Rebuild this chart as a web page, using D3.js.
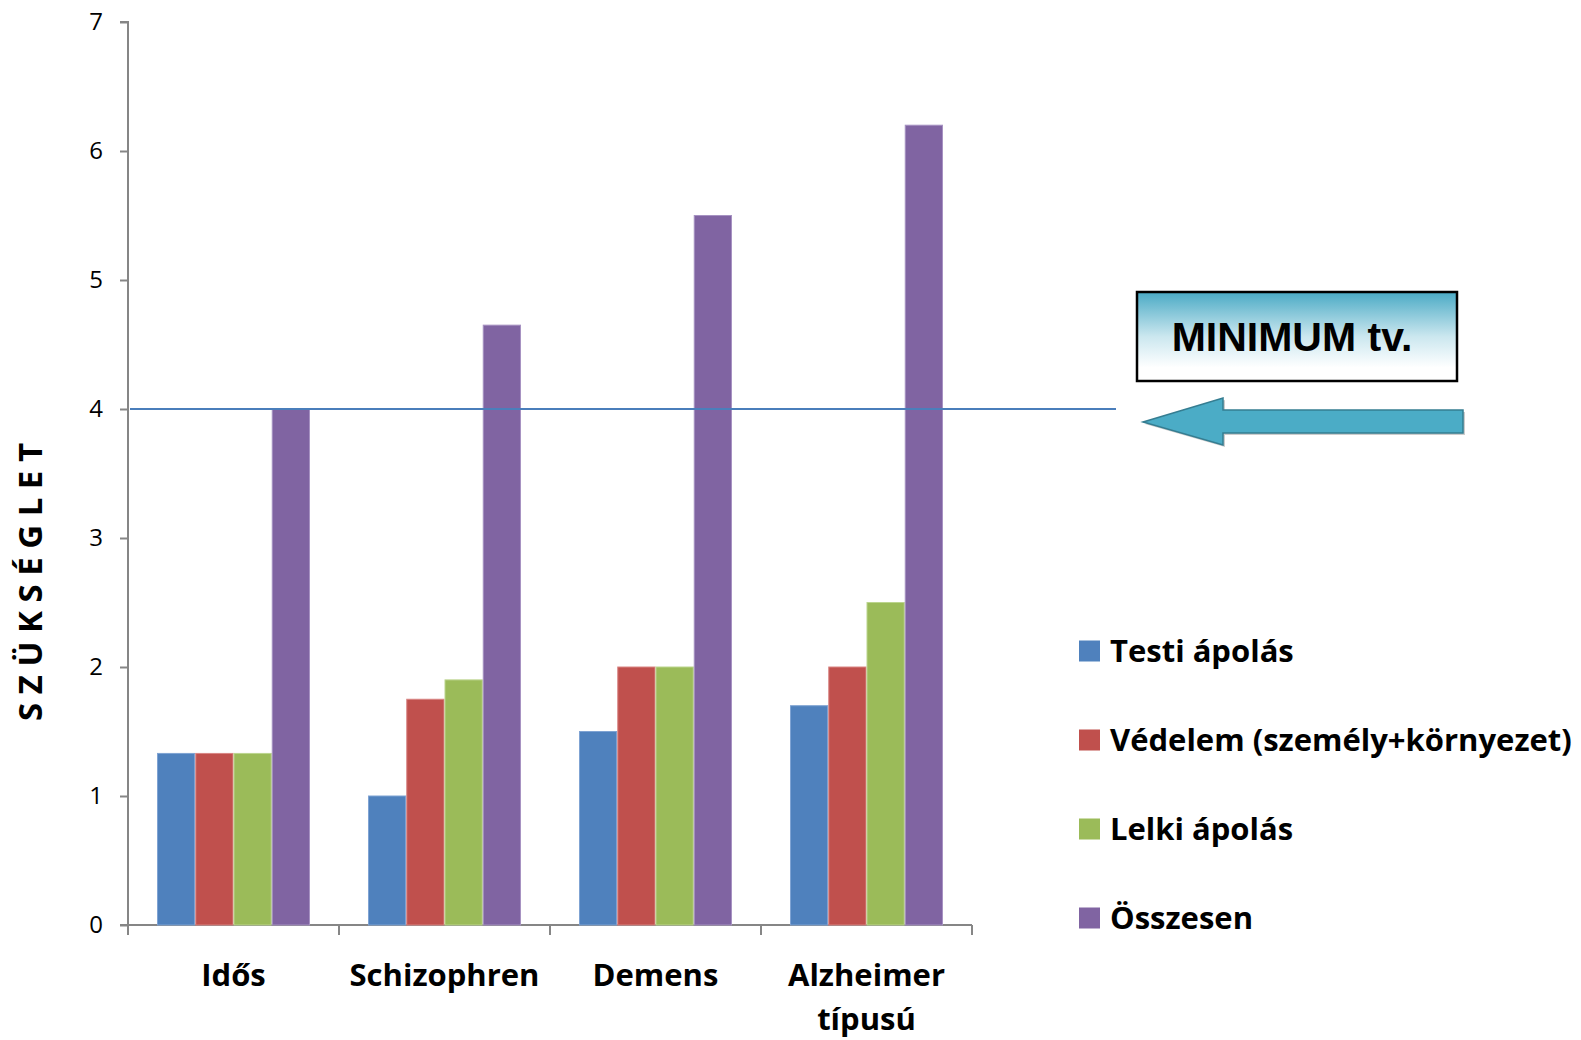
<!DOCTYPE html>
<html>
<head>
<meta charset="utf-8">
<script src="https://cdn.jsdelivr.net/npm/d3@7"></script>
<style>
  html, body { margin: 0; padding: 0; background: #fff; }
  svg { display: block; }
</style>
</head>
<body>
<div id="chart"></div>
<script>
// Data
const categories = ["Idős", "Schizophren", "Demens", "Alzheimer\ntípusú"];
const seriesNames = ["Testi ápolás", "Védelem (személy+környezet)", "Lelki ápolás", "Összesen"];
const testi = [1.33, 1.0, 1.5, 1.7];
const vedelem = [1.33, 1.75, 2.0, 2.0];
const lelki = [1.33, 1.9, 2.0, 2.5];
const osszesen = [4.0, 4.65, 5.5, 6.2];
const seriesColors = ["#4F81BD", "#C0504D", "#9BBB59", "#8064A2"];
const seriesEdges = ["#7FA3D3", "#D98583", "#BCD58E", "#A692C2"];
const yTicks = [0, 1, 2, 3, 4, 5, 6, 7];
const minimumValue = 4;
const minimumLabel = "MINIMUM tv.";
const yTitle = "S Z Ü K S É G L E T";

const W = 1581, H = 1040;
const plot = { left: 128, right: 972, top: 22, bottom: 925 };
const labelFont = "bold 31px 'Open Sans', sans-serif";

const svg = d3.select("#chart")
    .append("svg")
    .attr("width", W)
    .attr("height", H);

const defs = svg.append("defs");
const grad = defs.append("linearGradient")
    .attr("id", "boxGrad")
    .attr("x1", 0).attr("y1", 0).attr("x2", 0).attr("y2", 1);
grad.append("stop").attr("offset", "0%").attr("stop-color", "#4AAAC5");
grad.append("stop").attr("offset", "50%").attr("stop-color", "#CBE7EF");
grad.append("stop").attr("offset", "85%").attr("stop-color", "#FFFFFF");

// Scales
const x = d3.scaleBand()
    .domain(categories)
    .range([plot.left, plot.right])
    .paddingInner(0.275)
    .paddingOuter(0.1375);

const xSub = d3.scaleBand()
    .domain(seriesNames)
    .range([0, x.bandwidth()]);

const y = d3.scaleLinear()
    .domain([0, 7])
    .range([plot.bottom, plot.top]);

const table = categories.map((c, i) => ({
    cat: c,
    values: [testi[i], vedelem[i], lelki[i], osszesen[i]]
}));

// Y axis
const yAxis = svg.append("g")
    .attr("transform", `translate(${plot.left},0)`)
    .call(d3.axisLeft(y).tickValues(yTicks).tickFormat(d3.format("d")).tickSize(8).tickPadding(17));
yAxis.selectAll("line, path").attr("stroke", "#868686").attr("stroke-width", 2);
yAxis.select(".domain").attr("d", `M-8,${plot.top}H0V${plot.bottom}H-8`);
yAxis.selectAll("text")
    .style("font", "24px 'Open Sans', sans-serif")
    .attr("fill", "#000");

// X axis: baseline and boundary ticks between categories
const xAxis = svg.append("g");
xAxis.append("line")
    .attr("x1", plot.left).attr("x2", plot.right)
    .attr("y1", y(0)).attr("y2", y(0))
    .attr("stroke", "#868686").attr("stroke-width", 2);
const boundaries = categories.map(c => x(c) - x.step() * x.paddingInner() / 2)
    .concat([plot.right]);
xAxis.selectAll(".btick")
    .data(boundaries)
    .join("line")
    .attr("x1", d => d).attr("x2", d => d)
    .attr("y1", y(0)).attr("y2", y(0) + 10)
    .attr("stroke", "#868686").attr("stroke-width", 2);

// Bars
const groups = svg.append("g")
    .selectAll("g")
    .data(table)
    .join("g")
    .attr("transform", d => `translate(${x(d.cat)},0)`);

groups.selectAll("rect")
    .data(d => d.values.map((v, k) => ({ v, k })))
    .join("rect")
    .attr("x", d => xSub(seriesNames[d.k]) + 0.5)
    .attr("width", xSub.bandwidth() - 1)
    .attr("y", d => y(d.v))
    .attr("height", d => y(0) - y(d.v))
    .attr("fill", d => seriesColors[d.k])
    .attr("stroke", d => seriesEdges[d.k])
    .attr("stroke-width", 1);

// Category labels
const catLabels = svg.append("g")
    .selectAll("text")
    .data(categories)
    .join("text")
    .attr("x", d => x(d) + x.bandwidth() / 2)
    .attr("y", 986)
    .attr("text-anchor", "middle")
    .style("font", labelFont)
    .attr("fill", "#000");
catLabels.each(function (d) {
    const lines = d.split("\n");
    d3.select(this).selectAll("tspan")
        .data(lines)
        .join("tspan")
        .attr("x", x(d) + x.bandwidth() / 2)
        .attr("dy", (l, i) => i === 0 ? 0 : 44)
        .text(l => l);
});

// Y axis title
svg.append("text")
    .attr("transform", `translate(42,582) rotate(-90)`)
    .attr("text-anchor", "middle")
    .style("font", "bold 33px 'Open Sans', sans-serif")
    .attr("fill", "#000")
    .text(yTitle);

// Minimum line
svg.append("line")
    .attr("x1", plot.left + 2).attr("x2", 1116)
    .attr("y1", y(minimumValue)).attr("y2", y(minimumValue))
    .attr("stroke", "#4A7EBB")
    .attr("stroke-width", 2);

// Minimum label box
const box = { x: 1137, y: 292, w: 320, h: 89 };
svg.append("rect")
    .attr("x", box.x).attr("y", box.y)
    .attr("width", box.w).attr("height", box.h)
    .attr("fill", "url(#boxGrad)")
    .attr("stroke", "#000")
    .attr("stroke-width", 2.5);
svg.append("text")
    .attr("x", box.x + box.w / 2 - 5)
    .attr("y", box.y + box.h / 2 + 14)
    .attr("text-anchor", "middle")
    .style("font", "bold 41px 'Liberation Sans', Arial, sans-serif")
    .attr("fill", "#000")
    .text(minimumLabel);

// Arrow pointing at the minimum line
const ay = y(minimumValue) + 13;
const arrow = d3.path();
arrow.moveTo(1143, ay);
arrow.lineTo(1223, ay - 24);
arrow.lineTo(1223, ay - 12);
arrow.lineTo(1463, ay - 12);
arrow.lineTo(1463, ay + 11);
arrow.lineTo(1223, ay + 11);
arrow.lineTo(1223, ay + 23);
arrow.closePath();
svg.append("path")
    .attr("d", arrow.toString())
    .attr("transform", "translate(2,2)")
    .attr("fill", "#9a9a9a")
    .attr("opacity", 0.5);
svg.append("path")
    .attr("d", arrow.toString())
    .attr("fill", "#4BACC6")
    .attr("stroke", "#357D91")
    .attr("stroke-width", 1.5);

// Legend
const legend = svg.append("g")
    .selectAll("g")
    .data(seriesNames)
    .join("g")
    .attr("transform", (d, i) => `translate(1079,${651 + i * 89})`);
legend.append("rect")
    .attr("x", 0).attr("y", -10.5)
    .attr("width", 21).attr("height", 21)
    .attr("fill", (d, i) => seriesColors[i]);
legend.append("text")
    .attr("x", 31)
    .attr("y", 11)
    .style("font", labelFont)
    .attr("fill", "#000")
    .text(d => d);
</script>
</body>
</html>
